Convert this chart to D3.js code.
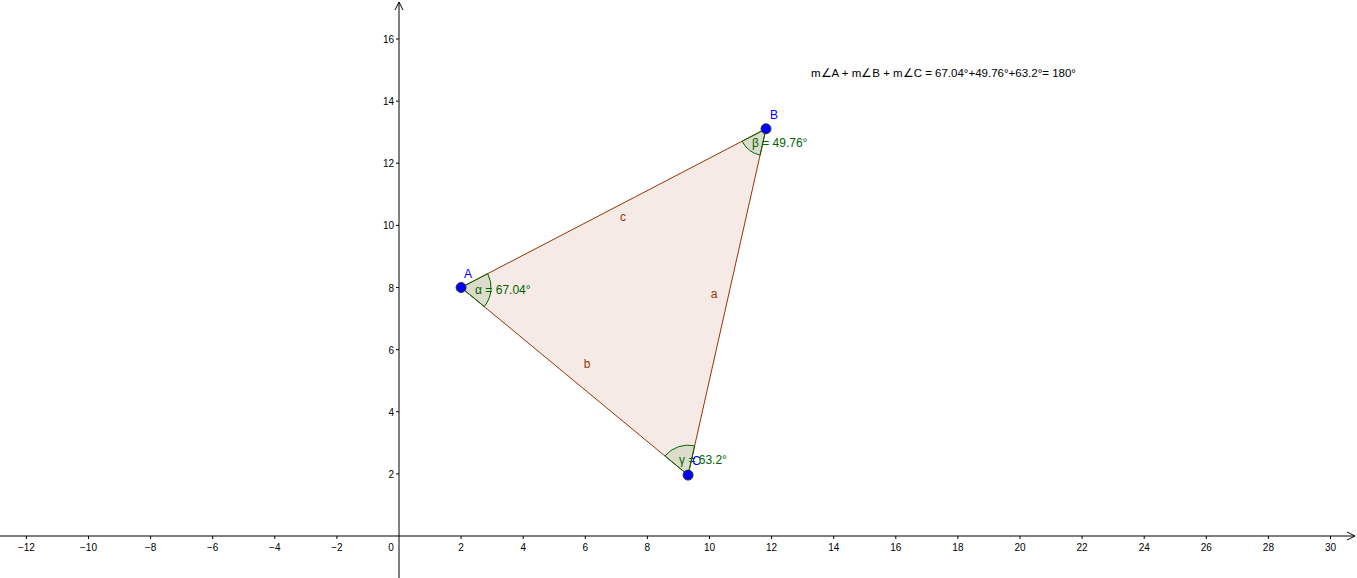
<!DOCTYPE html>
<html><head><meta charset="utf-8">
<script src="https://cdn.jsdelivr.net/npm/d3@7"></script>
<style>body{margin:0;background:#fff;} svg{font-family:"Liberation Sans",Arial,sans-serif;}</style>
</head><body><div id="chart"></div>
<script>
// data
var pointNames = ["A", "B", "C"];
var pointX = [2, 11.82, 9.31];
var pointY = [8, 13.11, 1.96];
var angleLabels = ["α = 67.04°", "β = 49.76°", "γ = 63.2°"];
var sideNames = ["a", "b", "c"];
var xTicks = [-12,-10,-8,-6,-4,-2,2,4,6,8,10,12,14,16,18,20,22,24,26,28,30];
var yTicks = [2,4,6,8,10,12,14,16];
var sumText = "m∠A + m∠B + m∠C = 67.04°+49.76°+63.2°= 180°";

var W = 1357, H = 578;
var svg = d3.select("#chart").append("svg").attr("width", W).attr("height", H);

var x = d3.scaleLinear().domain([0, 30]).range([399, 1330.5]);
var y = d3.scaleLinear().domain([0, 16]).range([536, 39]);

// axes
var xAxis = svg.append("g").attr("transform", "translate(0,536)");
xAxis.append("line").attr("x1", 0).attr("x2", W - 2).attr("stroke", "#000");
xAxis.append("path").attr("d", `M${W-10},-4 L${W-2},0 L${W-10},4`).attr("fill", "none").attr("stroke", "#000");
xAxis.selectAll(".t").data(xTicks).enter().append("line")
    .attr("x1", d => x(d)).attr("x2", d => x(d)).attr("y1", 0).attr("y2", 3).attr("stroke", "#000");
xAxis.selectAll("text").data(xTicks).enter().append("text")
    .attr("x", d => x(d)).attr("y", 15).attr("text-anchor", "middle")
    .attr("font-size", 10).text(d => d < 0 ? "\u2212" + (-d) : d);
xAxis.append("text").attr("x", 391).attr("y", 15).attr("text-anchor", "middle").attr("font-size", 10).text("0");

var yAxis = svg.append("g").attr("transform", "translate(399,0)");
yAxis.append("line").attr("y1", 2).attr("y2", H).attr("stroke", "#000");
yAxis.append("path").attr("d", "M-4,10 L0,2 L4,10").attr("fill", "none").attr("stroke", "#000");
yAxis.selectAll(".t").data(yTicks).enter().append("line")
    .attr("y1", d => y(d)).attr("y2", d => y(d)).attr("x1", -3).attr("x2", 0).attr("stroke", "#000");
yAxis.selectAll("text").data(yTicks).enter().append("text")
    .attr("x", -5).attr("y", d => y(d) + 4).attr("text-anchor", "end")
    .attr("font-size", 10).text(d => d);

// triangle
var pts = pointX.map((v, i) => [x(v), y(pointY[i])]);
svg.append("polygon").attr("points", pts.map(p => p.join(",")).join(" "))
    .attr("fill", "rgba(153,51,0,0.1)").attr("stroke", "#993300").attr("stroke-width", 1);

// angle arcs
var radii = [30, 27, 30];
var arc = d3.arc();
pts.forEach(function(p, i) {
    var q1 = pts[(i + 1) % 3], q2 = pts[(i + 2) % 3];
    var a1 = Math.atan2(q1[0] - p[0], -(q1[1] - p[1]));
    var a2 = Math.atan2(q2[0] - p[0], -(q2[1] - p[1]));
    var d = a2 - a1;
    while (d > Math.PI) d -= 2 * Math.PI;
    while (d < -Math.PI) d += 2 * Math.PI;
    svg.append("path")
        .attr("transform", `translate(${p[0]},${p[1]})`)
        .attr("d", arc({innerRadius: 0, outerRadius: radii[i], startAngle: a1, endAngle: a1 + d}))
        .attr("fill", "rgba(0,100,0,0.1)").attr("stroke", "#006400").attr("stroke-width", 1);
});

// side labels
var sidePos = [[714, 298], [587, 368], [623, 221]];
svg.selectAll(".side").data(sideNames).enter().append("text")
    .attr("x", (d, i) => sidePos[i][0]).attr("y", (d, i) => sidePos[i][1])
    .attr("font-size", 12).attr("fill", "#993300").attr("text-anchor", "middle").text(d => d);

// angle labels
var angOff = [[14, 6], [-14, 18], [-9, -11]];
svg.selectAll(".ang").data(angleLabels).enter().append("text")
    .attr("x", (d, i) => pts[i][0] + angOff[i][0]).attr("y", (d, i) => pts[i][1] + angOff[i][1])
    .attr("font-size", 12).attr("fill", "#006400").text(d => d);

// points
svg.selectAll("circle").data(pts).enter().append("circle")
    .attr("cx", d => d[0]).attr("cy", d => d[1]).attr("r", 5)
    .attr("fill", "#0000ff").attr("stroke", "#333").attr("stroke-width", 1);
var labOff = [[3, -10], [4, -10], [4, -10]];
svg.selectAll(".pl").data(pointNames).enter().append("text")
    .attr("x", (d, i) => pts[i][0] + labOff[i][0]).attr("y", (d, i) => pts[i][1] + labOff[i][1])
    .attr("font-size", 12).attr("fill", "#0000ff").text(d => d);

svg.append("text").attr("x", 811).attr("y", 77).attr("font-size", 11.5).attr("fill", "#000").text(sumText);
</script></body></html>
